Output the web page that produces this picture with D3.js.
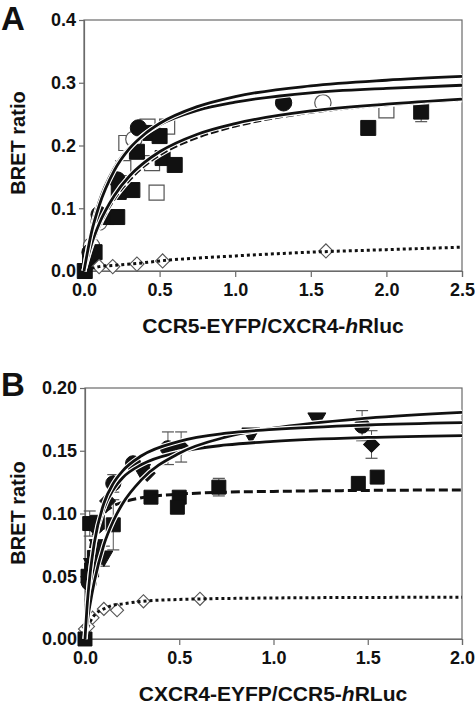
<!DOCTYPE html>
<html><head><meta charset="utf-8">
<script src="https://cdn.jsdelivr.net/npm/d3@7"></script>
<style>
body{margin:0;background:#fff}
svg{display:block}
text{font-family:"Liberation Sans",Arial,sans-serif;font-weight:bold;fill:#111}
</style>
</head><body>
<svg id="c" width="475" height="709"></svg>
<script>
// ---------- Panel A data ----------
const aXTicks = [0, 0.5, 1.0, 1.5, 2.0, 2.5];
const aYTicks = [0, 0.1, 0.2, 0.3, 0.4];
// [x, y, err]
const aFilledSquares = [[0.005,0.0,0],[0.04,0.022,0],[0.07,0.03,0],[0.15,0.086,0],[0.22,0.086,0],[0.23,0.126,0],[0.32,0.129,0],[0.35,0.19,0],[0.44,0.22,0],[0.5,0.215,0],[0.52,0.18,0],[0.6,0.169,0],[1.88,0.228,0],[2.23,0.254,0.016]];
const aOpenSquares = [[0.26,0.164,0],[0.28,0.204,0],[0.42,0.23,0],[0.55,0.23,0],[0.45,0.172,0],[0.48,0.125,0],[2.0,0.256,0.006]];
const aFilledCircles = [[0.04,0.03,0],[0.1,0.09,0],[0.22,0.145,0],[0.36,0.228,0],[1.32,0.268,0.006]];
const aOpenCircles = [[0.05,0.04,0],[0.1,0.078,0],[0.33,0.21,0],[1.58,0.268,0.008]];
const aOpenDiamonds = [[0.1,0.007,0],[0.19,0.007,0],[0.35,0.011,0],[0.52,0.016,0],[1.6,0.032,0]];
// fitted curves: [x, y]
const aCurve1 = [[0,0],[0.05,0.062],[0.1,0.104],[0.2,0.160],[0.3,0.195],[0.4,0.218],[0.5,0.235],[0.75,0.262],[1.0,0.278],[1.5,0.295],[2.0,0.304],[2.5,0.310]];
const aCurve2 = [[0,0],[0.05,0.066],[0.1,0.110],[0.2,0.164],[0.3,0.197],[0.4,0.218],[0.5,0.233],[0.75,0.256],[1.0,0.269],[1.5,0.284],[2.0,0.291],[2.5,0.296]];
const aCurve3 = [[0,0],[0.05,0.043],[0.1,0.075],[0.2,0.120],[0.3,0.151],[0.4,0.173],[0.5,0.190],[0.75,0.218],[1.0,0.235],[1.5,0.255],[2.0,0.266],[2.5,0.274]];
const aDashed = [[0,0],[0.05,0.040],[0.1,0.071],[0.2,0.115],[0.3,0.145],[0.4,0.168],[0.5,0.185],[0.75,0.213],[1.0,0.231],[1.5,0.253],[2.0,0.265],[2.5,0.273]];
const aDotted = [[0.05,0.004],[0.1,0.007],[0.2,0.009],[0.35,0.012],[0.5,0.016],[1.0,0.024],[1.5,0.030],[2.0,0.034],[2.5,0.038]];

// ---------- Panel B data ----------
const bXTicks = [0, 0.5, 1.0, 1.5, 2.0];
const bYTicks = [0, 0.05, 0.10, 0.15, 0.20];
const bCircles = [[0.02,0.045,0],[0.06,0.09,0],[0.15,0.124,0.007],[0.255,0.14,0],[0.44,0.152,0.013],[1.47,0.170,0.012]];
const bTriangles = [[0.04,0.06,0],[0.07,0.075,0],[0.1,0.066,0.008],[0.3,0.135,0],[0.88,0.164,0],[1.23,0.176,0]];
const bDiamonds = [[0.12,0.11,0],[0.33,0.132,0],[0.51,0.153,0.012],[1.52,0.155,0.011]];
const bSquares = [[0,0,0],[0.016,0.05,0],[0.035,0.055,0],[0.05,0.065,0],[0.025,0.092,0.01],[0.065,0.093,0],[0.15,0.091,0.02],[0.35,0.113,0],[0.5,0.113,0],[0.49,0.105,0],[0.71,0.121,0.007],[1.45,0.124,0],[1.55,0.129,0]];
const bOpenDiamonds = [[0.0,0.008,0],[0.016,0.010,0],[0.04,0.017,0],[0.1,0.024,0],[0.17,0.023,0],[0.31,0.030,0],[0.61,0.032,0]];
const bCurveCircles = [[0,0],[0.01,0.024],[0.025,0.049],[0.05,0.077],[0.1,0.108],[0.15,0.124],[0.2,0.134],[0.3,0.146],[0.5,0.1575],[0.75,0.164],[1.0,0.167],[1.5,0.1705],[2.0,0.1724]];
const bCurveTriangles = [[0,0],[0.01,0.0115],[0.025,0.026],[0.05,0.046],[0.1,0.075],[0.15,0.094],[0.2,0.108],[0.3,0.127],[0.5,0.148],[0.75,0.161],[1.0,0.168],[1.5,0.176],[2.0,0.1806]];
const bCurveDiamonds = [[0,0],[0.01,0.024],[0.025,0.049],[0.05,0.076],[0.1,0.104],[0.15,0.119],[0.2,0.1285],[0.3,0.139],[0.5,0.149],[0.75,0.1546],[1.0,0.1575],[1.5,0.1606],[2.0,0.1621]];
const bDashed = [[0,0],[0.01,0.040],[0.025,0.067],[0.05,0.086],[0.1,0.100],[0.15,0.106],[0.2,0.109],[0.3,0.1125],[0.5,0.1154],[0.75,0.117],[1.0,0.1176],[1.5,0.1184],[2.0,0.1188]];
const bDotted = [[0,0],[0.01,0.0068],[0.025,0.013],[0.05,0.019],[0.1,0.024],[0.15,0.027],[0.2,0.028],[0.3,0.030],[0.5,0.0315],[1.0,0.0327],[1.5,0.0331],[2.0,0.0333]];

const svg = d3.select("#c");
const AXIS = "#6a6a6a";

function panel(cfg){
  const x = d3.scaleLinear().domain(cfg.xDomain).range([cfg.left, cfg.right]);
  const y = d3.scaleLinear().domain(cfg.yDomain).range([cfg.bottom, cfg.top]);
  const g = svg.append("g");
  g.append("rect").attr("x",cfg.left).attr("y",cfg.top)
    .attr("width",cfg.right-cfg.left).attr("height",cfg.bottom-cfg.top)
    .attr("fill","none").attr("stroke",AXIS).attr("stroke-width",1.2);
  const xa = g.append("g").attr("transform",`translate(0,${cfg.bottom})`)
    .call(d3.axisBottom(x).tickValues(cfg.xTicks).tickFormat(d3.format(".1f")).tickSize(6).tickPadding(6));
  const ya = g.append("g").attr("transform",`translate(${cfg.left},0)`)
    .call(d3.axisLeft(y).tickValues(cfg.yTicks).tickFormat(d3.format(cfg.yFmt)).tickSize(5).tickPadding(3));
  [xa,ya].forEach(a=>{
    a.select(".domain").attr("stroke",AXIS).attr("stroke-width",1.2);
    a.selectAll(".tick line").attr("stroke",AXIS).attr("stroke-width",1.2);
    a.selectAll("text").attr("font-size",18).attr("fill","#111")
      .attr("font-family","Liberation Sans, Arial, sans-serif").attr("font-weight","bold");
  });
  const eb = g.append("g");
  cfg.points.forEach(s=>{
    s.data.filter(d=>d[2]>0).forEach(d=>{
      const cx=x(d[0]);
      eb.append("line").attr("x1",cx).attr("x2",cx).attr("y1",y(d[1]-d[2])).attr("y2",y(d[1]+d[2]))
        .attr("stroke","#555").attr("stroke-width",1);
      [d[1]-d[2], d[1]+d[2]].forEach(v=>{
        eb.append("line").attr("x1",cx-6).attr("x2",cx+6).attr("y1",y(v)).attr("y2",y(v))
          .attr("stroke","#555").attr("stroke-width",1.2);
      });
    });
  });
  cfg.points.forEach(s=>{
    g.append("g").selectAll("path").data(s.data).join("path")
      .attr("transform",d=>`translate(${x(d[0])},${y(d[1])}) rotate(${s.rot||0})`)
      .attr("d",d3.symbol().type(s.type).size(s.size))
      .attr("fill",s.fill).attr("stroke",s.stroke).attr("stroke-width",s.sw||1);
  });
  const line = d3.line().x(d=>x(d[0])).y(d=>y(d[1])).curve(d3.curveMonotoneX);
  cfg.curves.forEach(c=>{
    if(c.halo){
      g.append("path").attr("d",line(c.data)).attr("fill","none")
        .attr("stroke","#fff").attr("stroke-width",5);
    }
    g.append("path").attr("d",line(c.data)).attr("fill","none")
      .attr("stroke","#111").attr("stroke-width",c.w)
      .attr("stroke-dasharray",c.dash||null);
  });
}

panel({
  xDomain:[0,2.5], yDomain:[0,0.4], left:84, right:462, top:20, bottom:271,
  xTicks:aXTicks, yTicks:aYTicks, yFmt:".1f",
  points:[
    {data:aOpenSquares, type:d3.symbolSquare, size:225, fill:"#fff", stroke:"#555", sw:1.2},
    {data:aOpenCircles, type:d3.symbolCircle, size:210, fill:"#fff", stroke:"#555", sw:1.2},
    {data:aFilledSquares, type:d3.symbolSquare, size:225, fill:"#111", stroke:"#111"},
    {data:aFilledCircles, type:d3.symbolCircle, size:210, fill:"#111", stroke:"#111"},
    {data:aOpenDiamonds, type:d3.symbolSquare, size:100, rot:45, fill:"#fff", stroke:"#555", sw:1.1}
  ],
  curves:[
    {data:aDotted, w:3, dash:"3,3"},
    {data:aDashed, w:3, dash:"8,3", halo:true},
    {data:aCurve3, w:2.8, halo:true},
    {data:aCurve2, w:2.8, halo:true},
    {data:aCurve1, w:2.8, halo:true}
  ]
});

panel({
  xDomain:[0,2.0], yDomain:[0,0.2], left:85, right:462, top:388, bottom:639,
  xTicks:bXTicks, yTicks:bYTicks, yFmt:".2f",
  points:[
    {data:bOpenDiamonds, type:d3.symbolSquare, size:85, rot:45, fill:"#fff", stroke:"#555", sw:1.1},
    {data:bSquares, type:d3.symbolSquare, size:195, fill:"#111", stroke:"#111"},
    {data:bTriangles, type:d3.symbolTriangle, size:140, rot:180, fill:"#111", stroke:"#111"},
    {data:bDiamonds, type:d3.symbolSquare, size:125, rot:45, fill:"#111", stroke:"#111"},
    {data:bCircles, type:d3.symbolCircle, size:180, fill:"#111", stroke:"#111"}
  ],
  curves:[
    {data:bDotted, w:3, dash:"3,3"},
    {data:bDashed, w:3, dash:"9,4"},
    {data:bCurveDiamonds, w:2.8, halo:true},
    {data:bCurveTriangles, w:2.8, halo:true},
    {data:bCurveCircles, w:2.8, halo:true}
  ]
});

svg.append("text").attr("x",1).attr("y",30).attr("font-size",33).text("A");
svg.append("text").attr("x",1).attr("y",396).attr("font-size",33).text("B");
svg.append("text").attr("transform","translate(25,143) rotate(-90)").attr("text-anchor","middle")
  .attr("font-size",20).text("BRET ratio");
svg.append("text").attr("transform","translate(25,513) rotate(-90)").attr("text-anchor","middle")
  .attr("font-size",20).text("BRET ratio");
const tA = svg.append("text").attr("x",273).attr("y",333).attr("text-anchor","middle").attr("font-size",21);
tA.append("tspan").text("CCR5-EYFP/CXCR4-");
tA.append("tspan").attr("font-style","italic").text("h");
tA.append("tspan").text("Rluc");
const tB = svg.append("text").attr("x",273).attr("y",701).attr("text-anchor","middle").attr("font-size",21);
tB.append("tspan").text("CXCR4-EYFP/CCR5-");
tB.append("tspan").attr("font-style","italic").text("h");
tB.append("tspan").text("RLuc");
</script>
</body></html>
